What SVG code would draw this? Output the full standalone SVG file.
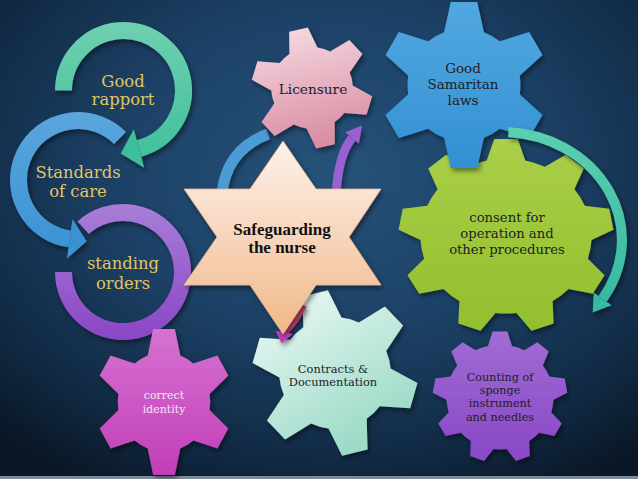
<svg xmlns="http://www.w3.org/2000/svg" width="638" height="479" viewBox="0 0 638 479">
<defs>
<style>
.gold{font-family:"DejaVu Serif",serif;font-size:16.4px;fill:#e2c564;text-anchor:middle}
.dk{font-family:"DejaVu Serif",serif;fill:#1d1d29;text-anchor:middle}
.ring{fill:none;stroke-width:17}
</style>
<radialGradient id="bg" cx="0.52" cy="0.36" r="0.75">
<stop offset="0" stop-color="#26527a"/><stop offset="0.45" stop-color="#1c4166"/><stop offset="0.8" stop-color="#112a44"/><stop offset="1" stop-color="#0a1726"/>
</radialGradient>
<linearGradient id="gRingG" gradientUnits="userSpaceOnUse" x1="0" y1="22" x2="0" y2="168"><stop offset="0" stop-color="#6fd0b0"/><stop offset="1" stop-color="#3ebf9a"/></linearGradient>
<linearGradient id="gRingB" gradientUnits="userSpaceOnUse" x1="0" y1="112" x2="0" y2="260"><stop offset="0" stop-color="#5aa6dc"/><stop offset="1" stop-color="#3a92d2"/></linearGradient>
<linearGradient id="gRingP" gradientUnits="userSpaceOnUse" x1="0" y1="204" x2="0" y2="340"><stop offset="0" stop-color="#a87ed8"/><stop offset="1" stop-color="#8a46c4"/></linearGradient>
<linearGradient id="gTeal" gradientUnits="userSpaceOnUse" x1="0" y1="125" x2="0" y2="315"><stop offset="0" stop-color="#5ccfb0"/><stop offset="1" stop-color="#33b8a0"/></linearGradient>
<linearGradient id="gPink" x1="0" y1="0" x2="0" y2="1"><stop offset="0" stop-color="#f4d6de"/><stop offset="1" stop-color="#d98aa1"/></linearGradient>
<linearGradient id="gBlue" x1="0" y1="0" x2="0" y2="1"><stop offset="0" stop-color="#52a8e0"/><stop offset="1" stop-color="#3290d2"/></linearGradient>
<linearGradient id="gGreen" x1="0" y1="0" x2="0" y2="1"><stop offset="0" stop-color="#aacf48"/><stop offset="1" stop-color="#92bf2e"/></linearGradient>
<linearGradient id="gViolet" x1="0" y1="0" x2="0" y2="1"><stop offset="0" stop-color="#a06cd4"/><stop offset="1" stop-color="#8947c5"/></linearGradient>
<linearGradient id="gMint" x1="0" y1="0" x2="0.3" y2="1"><stop offset="0" stop-color="#ecf9f6"/><stop offset="1" stop-color="#9ddbc8"/></linearGradient>
<linearGradient id="gMag" x1="0" y1="0" x2="0" y2="1"><stop offset="0" stop-color="#d572d2"/><stop offset="1" stop-color="#c23eb7"/></linearGradient>
<linearGradient id="gStar" gradientUnits="userSpaceOnUse" x1="0" y1="141" x2="0" y2="334"><stop offset="0" stop-color="#fdf1ea"/><stop offset="0.5" stop-color="#f7d5bc"/><stop offset="1" stop-color="#f0b886"/></linearGradient>
<filter id="sh" x="-20%" y="-20%" width="140%" height="140%"><feDropShadow dx="2" dy="3" stdDeviation="2.5" flood-color="#000" flood-opacity="0.45"/></filter>
<path id="g6" d="M -24 -63.62 L -16 -100 L 16 -100 L 24 -63.62 A 68 68 0 0 1 43.10 -52.59 L 78.60 -63.86 L 94.60 -36.14 L 67.10 -11.03 A 68 68 0 0 1 67.10 11.03 L 94.60 36.14 L 78.60 63.86 L 43.10 52.59 A 68 68 0 0 1 24 63.62 L 16 100 L -16 100 L -24 63.62 A 68 68 0 0 1 -43.10 52.59 L -78.60 63.86 L -94.60 36.14 L -67.10 11.03 A 68 68 0 0 1 -67.10 -11.03 L -94.60 -36.14 L -78.60 -63.86 L -43.10 -52.59 A 68 68 0 0 1 -24 -63.62 Z"/>
<path id="g9" d="M -18 -77.95 L -11 -100 L 11 -100 L 18 -77.95 A 80 80 0 0 1 36.32 -71.28 L 55.85 -83.67 L 72.71 -69.53 L 63.90 -48.14 A 80 80 0 0 1 73.64 -31.26 L 96.57 -28.19 L 100.39 -6.53 L 79.89 4.20 A 80 80 0 0 1 76.51 23.39 L 92.10 40.47 L 81.10 59.53 L 58.51 54.57 A 80 80 0 0 1 43.57 67.09 L 44.54 90.21 L 23.86 97.73 L 9.75 79.41 A 80 80 0 0 1 -9.75 79.41 L -23.86 97.73 L -44.54 90.21 L -43.57 67.09 A 80 80 0 0 1 -58.51 54.57 L -81.10 59.53 L -92.10 40.47 L -76.51 23.39 A 80 80 0 0 1 -79.89 4.20 L -100.39 -6.53 L -96.57 -28.19 L -73.64 -31.26 A 80 80 0 0 1 -63.90 -48.14 L -72.71 -69.53 L -55.85 -83.67 L -36.32 -71.28 A 80 80 0 0 1 -18 -77.95 Z"/>
</defs>

<rect width="638" height="479" fill="url(#bg)"/>
<rect x="0" y="476" width="638" height="3" fill="#7d8a98"/>

<g id="ring-standing-orders">
<g filter="url(#sh)"><path class="ring" stroke="url(#gRingP)" d="M 83.19 227.79 A 59.5 59.5 0 1 1 63.5 272"/></g>
<text class="gold" x="123" y="269">standing</text>
<text class="gold" x="123" y="289">orders</text>
</g>
<g id="ring-standards-of-care">
<g filter="url(#sh)"><path class="ring" stroke="url(#gRingB)" d="M 120.07 137.93 A 59.5 59.5 0 1 0 69.72 238.92"/>
<polygon fill="#3a92d2" points="66.94,258.73 72.5,219.1 86.6,241.3"/></g>
<text class="gold" x="78" y="178">Standards</text>
<text class="gold" x="78" y="197">of care</text>
</g>
<g id="ring-good-rapport">
<g filter="url(#sh)"><path class="ring" stroke="url(#gRingG)" d="M 63.5 90.5 A 60 60 0 1 1 139.03 148.46"/>
<polygon fill="#3ebf9a" points="144.2,167.8 133.85,129.14 120.68,153.38"/></g>
<text class="gold" x="123" y="87">Good</text>
<text class="gold" x="123" y="105">rapport</text>
</g>

<g id="connectors-back" filter="url(#sh)">
<path d="M 222 194 Q 226 150 268 134" fill="none" stroke="#4b9bd5" stroke-width="11"/>
<path d="M 336 196 Q 338 155 352 138" fill="none" stroke="#9a5fd0" stroke-width="9"/>
<polygon fill="#9a5fd0" points="358.9,143.7 345.1,132.3 362.2,125.6"/>
</g>

<g id="gear-contracts">
<g filter="url(#sh)"><use href="#g6" fill="url(#gMint)" transform="translate(335 373) rotate(-14) scale(0.82)"/></g>
<text class="dk" font-size="11.4" x="333" y="373">Contracts &amp;</text>
<text class="dk" font-size="11.4" x="333" y="386">Documentation</text>
</g>
<g id="gear-identity">
<g filter="url(#sh)"><use href="#g6" fill="url(#gMag)" transform="translate(164 402) scale(0.68 0.73)"/></g>
<text class="dk" font-size="11" style="fill:#f5e6f5" x="164" y="399">correct</text>
<text class="dk" font-size="11" style="fill:#f5e6f5" x="164" y="413">identity</text>
</g>
<g id="gear-counting">
<g filter="url(#sh)"><use href="#g9" fill="url(#gViolet)" transform="translate(500 397) scale(0.67 0.655)"/></g>
<text class="dk" font-size="11.2" x="500" y="381">Counting of</text>
<text class="dk" font-size="11.2" x="500" y="394">sponge</text>
<text class="dk" font-size="11.2" x="500" y="407">instrument</text>
<text class="dk" font-size="11.2" x="500" y="421">and needles</text>
</g>
<g id="gear-consent">
<g filter="url(#sh)"><use href="#g9" fill="url(#gGreen)" transform="translate(506 236) scale(1.07 0.97)"/></g>
<text class="dk" font-size="13.2" x="507" y="222">consent for</text>
<text class="dk" font-size="13.2" x="507" y="238">operation and</text>
<text class="dk" font-size="13.2" x="507" y="254">other procedures</text>
</g>
<g id="gear-samaritan">
<g filter="url(#sh)"><use href="#g6" fill="url(#gBlue)" transform="translate(464 85) scale(0.83)"/></g>
<text class="dk" font-size="13.5" x="463" y="73">Good</text>
<text class="dk" font-size="13.5" x="463" y="89">Samaritan</text>
<text class="dk" font-size="13.5" x="463" y="105">laws</text>
</g>
<g id="gear-licensure">
<g filter="url(#sh)"><use href="#g6" fill="url(#gPink)" transform="translate(312 88) rotate(-13) scale(0.6)"/></g>
<text class="dk" font-size="13.7" x="313" y="94">Licensure</text>
</g>

<g id="connectors-front" filter="url(#sh)">
<path d="M 508.3 132.2 A 120 108 0 0 1 602.6 298.8" fill="none" stroke="url(#gTeal)" stroke-width="10"/>
<polygon fill="#36baa0" points="611.5,305.2 593.7,292.4 592.7,312.6"/>
<path d="M 303 305 Q 296 320 284 332" fill="none" stroke="#c8436e" stroke-width="8"/>
<polygon fill="#c03fc0" points="292.5,334 275.5,330.5 281.6,343.5"/>
</g>

<g id="star-safeguarding">
<polygon filter="url(#sh)" fill="url(#gStar)" stroke="#e3b48e" stroke-width="0.8" points="283,141 316,189 381,189 349,237 381,285 316,285 283,334 250,285 184,285 217,237 184,189 250,189"/>
<text font-family="Liberation Serif, serif" font-weight="bold" font-size="17" fill="#111" text-anchor="middle" x="282" y="235">Safeguarding</text>
<text font-family="Liberation Serif, serif" font-weight="bold" font-size="17" fill="#111" text-anchor="middle" x="282" y="253">the nurse</text>
</g>
</svg>
